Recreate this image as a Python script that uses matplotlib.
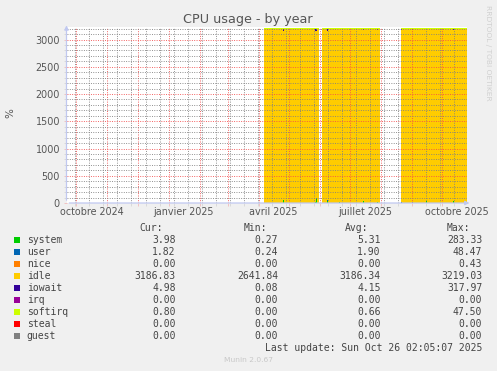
import numpy as np
import pandas as pd
import matplotlib
matplotlib.use('Agg')
import matplotlib.pyplot as plt
from matplotlib.patches import Rectangle

W, H = 497, 371
nan = np.nan

# daily averages (breakpoints), nan = no data
dates = pd.to_datetime([
    "2025-04-06 00:00", "2025-04-25 00:00", "2025-04-26 00:00", "2025-05-27 00:00", "2025-05-28 00:00",
    "2025-05-29 00:00", "2025-05-31 00:00", "2025-06-01 00:00", "2025-06-03 00:00", "2025-06-08 00:00",
    "2025-06-09 00:00", "2025-06-20 00:00", "2025-06-21 00:00", "2025-07-14 00:00", "2025-07-15 00:00",
    "2025-07-28 00:00", "2025-07-29 00:00", "2025-07-31 00:00", "2025-08-01 00:00", "2025-08-21 00:00",
    "2025-08-22 00:00", "2025-09-01 00:00", "2025-09-02 00:00", "2025-09-15 00:00", "2025-09-16 00:00",
    "2025-10-12 00:00", "2025-10-13 00:00", "2025-10-26 02:05",
], format="%Y-%m-%d %H:%M")
system = [5, 55, 5, 20, 65, 5, 5, nan, 5, 45, 5, 20, 5, 40, 5, 10, 5, 5, nan, 8, 5, 8, 5, 30, 5, 40, 5, 5]
user = [2, 4, 2, 3, 20, 2, 2, nan, 2, 4, 2, 2, 2, 3, 2, 2, 2, 2, nan, 2, 2, 2, 2, 3, 2, 3, 2, 2]
nice = [0, 0, 0, 0, 0, 0, 0, nan, 0, 0, 0, 0, 0, 0, 0, 0, 0, 0, nan, 0, 0, 0, 0, 0, 0, 0, 0, 0]
idle = [3190, 3102, 3190, 3133, 3066, 3190, 3190, nan, 3190, 3112, 3190, 3164, 3190, 3133, 3190,
        3159, 3190, 3190, nan, 3171, 3190, 3171, 3190, 3162, 3190, 3138, 3190, 3190]
iowait = [4, 40, 4, 45, 50, 4, 4, nan, 4, 40, 4, 15, 4, 25, 4, 30, 4, 4, nan, 20, 4, 20, 4, 6, 4, 20, 4, 4]
irq = nice
softirq = [14, 14, 14, 14, 14, 14, 14, nan, 14, 14, 14, 14, 14, 14, 14, 14, 14, 14, nan, 14, 14, 14, 14, 14, 14, 14, 14, 14]
steal = nice
guest = nice

names = ["system", "user", "nice", "idle", "iowait", "irq", "softirq", "steal", "guest"]
colors = ["#00CC00", "#0066B3", "#FF8000", "#FFCC00", "#330099", "#990099", "#CCFF00", "#FF0000", "#808080"]
cur = ["3.98", "1.82", "0.00", "3186.83", "4.98", "0.00", "0.80", "0.00", "0.00"]
mins = ["0.27", "0.24", "0.00", "2641.84", "0.08", "0.00", "0.00", "0.00", "0.00"]
avgs = ["5.31", "1.90", "0.00", "3186.34", "4.15", "0.00", "0.66", "0.00", "0.00"]
maxs = ["283.33", "48.47", "0.43", "3219.03", "317.97", "0.00", "47.50", "0.00", "0.00"]

y_ticks = [0, 500, 1000, 1500, 2000, 2500, 3000]
x_labels = ["octobre 2024", "janvier 2025", "avril 2025", "juillet 2025", "octobre 2025"]
x_label_dates = pd.to_datetime(["2024-10-16", "2025-01-16", "2025-04-16", "2025-07-16", "2025-10-16"])

end = pd.Timestamp("2025-10-26 02:05")
start = end - pd.Timedelta(days=400)

txt = "#555555"
fig = plt.figure(figsize=(W / 100, H / 100), dpi=100, facecolor="#F0F0F0")
ax = fig.add_axes([66.5 / W, (H - 203) / H, 400.5 / W, 176 / H])
ax.set_facecolor("white")

ax.stackplot(dates, system, user, nice, idle, iowait, irq, softirq, steal, guest,
             colors=colors, step="post", linewidth=0)

ax.set_xlim(start, end)
ax.set_ylim(0, 3230)
ax.set_yticks(y_ticks)
ax.set_yticks(np.arange(0, 3201, 100), minor=True)
ax.set_xticks(pd.date_range("2024-10-01", "2025-10-01", freq="MS"))
ax.set_xticks(pd.date_range("2024-09-30", "2025-10-26", freq="14D"), minor=True)
ax.xaxis.set_major_formatter(plt.NullFormatter())

# grid on top of the areas, like rrdtool
red = (0.95, 0.3, 0.3, 0.3)
gray = (0.5, 0.5, 0.5, 0.22)
ax.set_axisbelow(False)
ax.grid(which="major", color=red, linestyle=(0, (1, 1.6)), linewidth=0.65)
ax.grid(which="minor", color=gray, linestyle=(0, (1, 1.6)), linewidth=0.65)
ax.tick_params(which="major", length=2.2, width=0.65, color=red, labelsize=6.9,
               labelcolor=txt, pad=2.5)
ax.tick_params(which="minor", length=2.2, width=0.65, color=gray)
for s in ax.spines.values():
    s.set_visible(False)

axis_col = "#C0C8F0"
ax.annotate("", xy=(0, 1.025), xytext=(0, 0), xycoords="axes fraction",
            arrowprops=dict(arrowstyle="-|>", color=axis_col, lw=0.9, mutation_scale=6),
            annotation_clip=False)
ax.annotate("", xy=(1.013, 0), xytext=(0, 0), xycoords="axes fraction",
            arrowprops=dict(arrowstyle="-|>", color=axis_col, lw=0.9, mutation_scale=6),
            annotation_clip=False)

for d, lab in zip(x_label_dates, x_labels):
    ax.text(d, -9 / 176, lab, transform=ax.get_xaxis_transform(), ha="center", va="center",
            fontsize=6.9, color=txt)

def px(x, y):
    return x / W, 1 - y / H

fig.text(*px(248, 19), "CPU usage - by year", ha="center", va="center", fontsize=9.2, color=txt)
fig.text(*px(10, 113), "%", ha="center", va="center", rotation=90, fontsize=7.5, color=txt)
fig.text(*px(488, 53), "RRDTOOL / TOBI OETIKER", ha="center", va="center", rotation=270,
         fontsize=5.4, color="#D0D0D0")

# legend table
mono = dict(family="DejaVu Sans Mono", fontsize=7.0, color="#444444", va="center")
for x, h in zip([163, 267, 368, 470], ["Cur:", "Min:", "Avg:", "Max:"]):
    fig.text(*px(x, 228), h, ha="right", **mono)

for i, name in enumerate(names):
    yc = 240 + 12 * i
    fig.add_artist(Rectangle(px(14, yc + 3), 6 / W, 6 / H, transform=fig.transFigure,
                             color=colors[i], lw=0))
    fig.text(*px(26.7, yc), name, ha="left", **mono)
    for x, col in zip([175.7, 278.3, 380.7, 482.3], [cur, mins, avgs, maxs]):
        fig.text(*px(x, yc), col[i], ha="right", **mono)

fig.text(*px(482.3, 348), "Last update: Sun Oct 26 02:05:07 2025", ha="right", **mono)
fig.text(*px(248, 360), "Munin 2.0.67", ha="center", va="center", fontsize=5.4, color="#C8C8C8")

fig.savefig("out.png", dpi=100, facecolor=fig.get_facecolor())
